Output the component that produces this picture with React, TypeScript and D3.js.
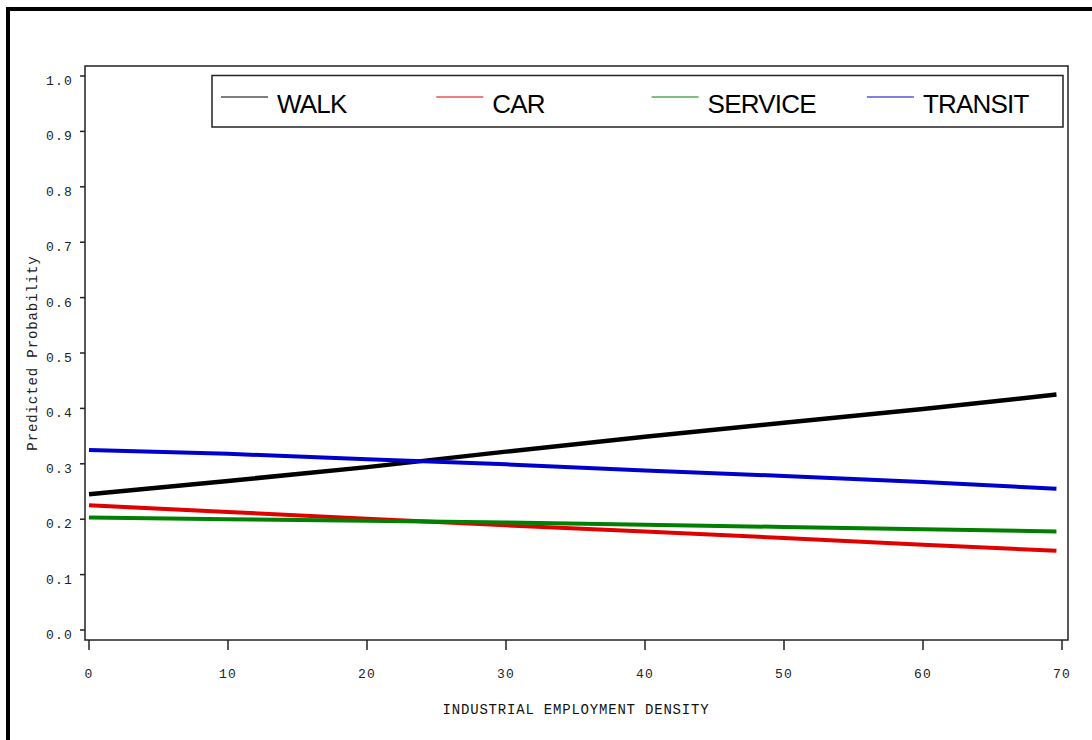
import React from "react";
import * as d3 from "d3";

// industrial employment density (x) and predicted probabilities per mode
const density = [0, 10, 20, 30, 40, 50, 60, 69.6];
const walk = [0.245, 0.269, 0.294, 0.322, 0.349, 0.374, 0.399, 0.425];
const car = [0.225, 0.213, 0.201, 0.189, 0.178, 0.166, 0.154, 0.143];
const service = [0.203, 0.2, 0.197, 0.194, 0.19, 0.186, 0.182, 0.178];
const transit = [0.325, 0.318, 0.308, 0.299, 0.288, 0.278, 0.267, 0.255];

const modes = ["WALK", "CAR", "SERVICE", "TRANSIT"];
const colors = ["#000000", "#e00000", "#008000", "#0000cc"];
const xTicks = [0, 10, 20, 30, 40, 50, 60, 70];
const yTicks = [0, 0.1, 0.2, 0.3, 0.4, 0.5, 0.6, 0.7, 0.8, 0.9, 1.0];

const W = 1092;
const H = 740;
const frame = { left: 85, top: 66, right: 1068, bottom: 640 };
const mono = "'Liberation Mono', 'Courier New', monospace";

const App = () => {
  const x = d3.scaleLinear().domain([0, 70]).range([89, 1062]);
  const y = d3.scaleLinear().domain([0, 1]).range([630, 76]);

  const series = [walk, car, service, transit];
  const line = d3
    .line<number>()
    .x((d, i) => x(density[i]))
    .y((d) => y(d));

  return (
    <svg
      width={W}
      height={H}
      style={{ position: "absolute", left: 0, top: 0, background: "#fff" }}
    >
      {/* outer border (top and left only, the rest is cropped) */}
      <rect x={0} y={0} width={W} height={H} fill="#fff" />
      <line x1={6} y1={9} x2={W} y2={9} stroke="#000" strokeWidth={4} />
      <line x1={8} y1={7} x2={8} y2={H} stroke="#000" strokeWidth={4} />

      {/* plot frame */}
      <rect
        x={frame.left}
        y={frame.top}
        width={frame.right - frame.left}
        height={frame.bottom - frame.top}
        fill="none"
        stroke="#222"
        strokeWidth={1.5}
      />

      {/* y axis */}
      {yTicks.map((t) => (
        <g key={"y" + t}>
          <line x1={80} x2={frame.left} y1={y(t)} y2={y(t)} stroke="#222" strokeWidth={1.5} />
          <text
            x={73}
            y={y(t) + 9}
            textAnchor="end"
            fontFamily={mono}
            fontSize={13}
            letterSpacing={1.2}
            fill="#222"
          >
            {t.toFixed(1)}
          </text>
        </g>
      ))}
      <text
        transform={`translate(37,353) rotate(-90)`}
        textAnchor="middle"
        fontFamily={mono}
        fontSize={14}
        letterSpacing={0.9}
        fill="#222"
      >
        Predicted Probability
      </text>

      {/* x axis */}
      {xTicks.map((t) => (
        <g key={"x" + t}>
          <line x1={x(t)} x2={x(t)} y1={frame.bottom} y2={650} stroke="#222" strokeWidth={1.5} />
          <text
            x={x(t)}
            y={678}
            textAnchor="middle"
            fontFamily={mono}
            fontSize={13}
            letterSpacing={1.2}
            fill="#222"
          >
            {t}
          </text>
        </g>
      ))}
      <text
        x={576}
        y={714}
        textAnchor="middle"
        fontFamily={mono}
        fontSize={14}
        letterSpacing={0.8}
        fill="#111"
      >
        INDUSTRIAL EMPLOYMENT DENSITY
      </text>

      {/* lines */}
      {series.map((s, i) => (
        <path
          key={modes[i]}
          d={line(s) || ""}
          fill="none"
          stroke={colors[i]}
          strokeWidth={i === 0 ? 4.5 : 4}
        />
      ))}

      {/* legend */}
      <rect x={212} y={75.5} width={851} height={51.5} fill="#fff" stroke="#222" strokeWidth={1.5} />
      {modes.map((m, i) => {
        const lx = 221 + i * 215.3;
        return (
          <g key={"lg" + m}>
            <line x1={lx} x2={lx + 47} y1={97} y2={97} stroke={colors[i]} strokeWidth={1.2} />
            <text
              x={lx + 56}
              y={113}
              fontFamily="'Liberation Sans', Arial, sans-serif"
              fontSize={26}
              letterSpacing={-0.8}
              fill="#000"
            >
              {m}
            </text>
          </g>
        );
      })}
    </svg>
  );
};

export default App;
